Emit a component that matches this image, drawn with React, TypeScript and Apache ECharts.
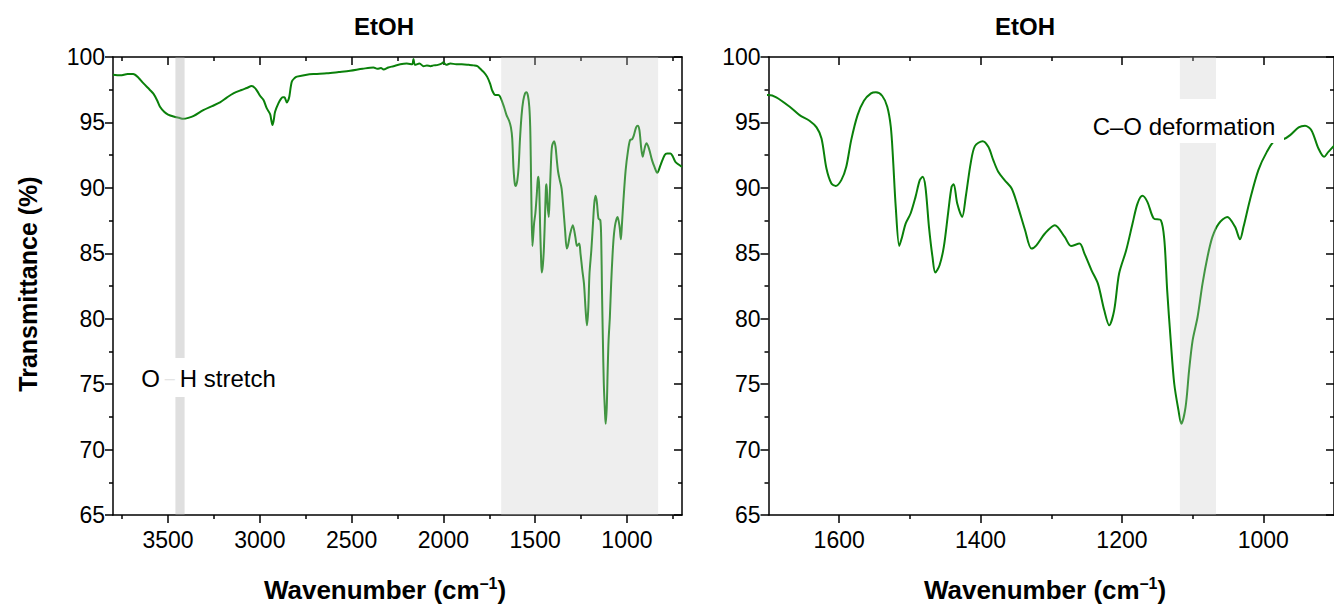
import React, { useEffect, useRef } from "react";
import * as echarts from "echarts";

const wavenumbers = [
  3800, 3760, 3720, 3690, 3660, 3635, 3600, 3580, 3560, 3544, 3520, 3500, 3470, 3440, 3417, 3390, 3360, 3308, 3260, 3217,
  3180, 3144, 3100, 3071, 3044, 3026, 3010, 2998, 2980, 2962, 2944, 2938, 2931, 2924, 2917, 2899, 2885, 2875, 2866, 2853,
  2845, 2839, 2826, 2810, 2798, 2744, 2700, 2635, 2570, 2508, 2440, 2381, 2360, 2340, 2326, 2300, 2272, 2235, 2200, 2170,
  2163, 2155, 2130, 2108, 2090, 2070, 2054, 2030, 2010, 2000, 1985, 1962, 1930, 1900, 1860, 1835, 1815, 1799, 1780, 1762,
  1745, 1735, 1717, 1700, 1689, 1670, 1656, 1642, 1632, 1625, 1618, 1611, 1605, 1597, 1590, 1583, 1574, 1565, 1555, 1548,
  1539, 1532, 1527, 1524, 1520, 1515, 1511, 1506, 1499, 1492, 1486, 1482, 1478, 1473, 1468, 1464, 1458, 1452, 1446, 1441,
  1438, 1433, 1426, 1421, 1414, 1408, 1397, 1389, 1382, 1375, 1366, 1356, 1347, 1337, 1328, 1321, 1309, 1295, 1281, 1272,
  1260, 1253, 1243, 1234, 1225, 1218, 1211, 1204, 1194, 1185, 1178, 1171, 1164, 1155, 1145, 1140, 1136, 1131, 1126, 1120,
  1116, 1110, 1105, 1100, 1093, 1086, 1079, 1072, 1063, 1051, 1040, 1033, 1028, 1019, 1007, 995, 983, 971, 962, 950,
  941, 932, 922, 914, 908, 894, 880, 863, 850, 835, 817, 795, 781, 763, 750, 736, 700,
];

const transmittance = [
  98.65, 98.6, 98.7, 98.7, 98.4, 98.0, 97.5, 97.2, 96.7, 96.2, 95.8, 95.6, 95.45, 95.35, 95.28, 95.35, 95.5, 95.94, 96.25, 96.53,
  96.9, 97.22, 97.48, 97.63, 97.78, 97.62, 97.3, 97.02, 96.71, 96.07, 95.64, 95.2, 94.8, 95.2, 95.82, 96.46, 96.8, 96.92, 96.92, 96.53,
  96.7, 97.0, 98.11, 98.4, 98.5, 98.65, 98.7, 98.75, 98.85, 98.95, 99.1, 99.2, 99.1, 99.15, 99.05, 99.2, 99.3, 99.44, 99.5, 99.45,
  99.85, 99.4, 99.5, 99.3, 99.35, 99.3, 99.36, 99.4, 99.5, 99.6, 99.4, 99.5, 99.45, 99.45, 99.4, 99.36, 99.3, 99.1, 98.85, 98.5,
  97.95, 97.47, 97.09, 97.1, 96.92, 96.2, 95.56, 95.13, 94.62, 93.78, 91.48, 90.33, 90.15, 90.59, 91.61, 93.65, 95.56, 96.66, 97.22, 97.3,
  97.02, 96.2, 94.67, 92.37, 88.55, 85.56, 86.25, 87.27, 88.04, 89.31, 90.59, 90.84, 90.08, 87.02, 84.72, 83.53, 84.09, 85.49, 88.04, 90.08,
  90.28, 88.8, 87.78, 89.3, 91.87, 93.19, 93.57, 93.14, 92.12, 91.23, 90.59, 89.95, 88.55, 86.76, 85.36, 85.61, 86.51, 87.15, 86.25, 85.56,
  85.74, 84.98, 83.7, 82.68, 80.64, 79.5, 80.64, 83.45, 85.23, 87.27, 88.8, 89.39, 88.93, 87.66, 87.53, 86.0, 82.17, 78.35, 75.03, 72.99,
  71.97, 73.24, 76.05, 78.35, 80.13, 82.68, 84.72, 86.25, 87.27, 87.78, 87.02, 86.07, 87.02, 89.06, 91.35, 92.75, 93.65, 93.73, 94.03, 94.62,
  94.75, 94.41, 93.01, 92.37, 92.75, 93.4, 93.0, 92.1, 91.6, 91.15, 91.74, 92.5, 92.63, 92.63, 92.4, 91.99, 91.61,
];

const leftMajorTicks = [1000, 1500, 2000, 2500, 3000, 3500];
const leftMinorTicks = [750, 1250, 1750, 2250, 2750, 3250, 3750];
const rightMajorTicks = [1000, 1200, 1400, 1600];
const rightMinorTicks = [1100, 1300, 1500];

const leftBands = [
  { from: 3460, to: 3410, color: "rgba(170,170,170,0.38)" },
  { from: 1685, to: 830, color: "rgba(200,200,200,0.3)" },
];
const rightBands = [{ from: 1118, to: 1067, color: "rgba(200,200,200,0.3)" }];

const titleText = "EtOH";
const yTitle = "Transmittance (%)";

const FONT = "'Liberation Sans', Arial, Helvetica, sans-serif";
const LINE_COLOR = "#0a800a";
const TICK_FONT = 23;

export default function App() {
  const ref = useRef<HTMLDivElement>(null);

  useEffect(() => {
    if (!ref.current) return;
    const chart = echarts.init(ref.current, undefined, { renderer: "svg" });
    const data = wavenumbers.map((w, i) => [w, transmittance[i]]);
    const axisLineStyle = { color: "#000", width: 1.5 };

    const makeX = (grid: number, min: number, max: number, major: number[], minor: number[]) => [
      {
        type: "value", gridIndex: grid, min, max, inverse: true, position: "bottom",
        axisLine: { show: true, onZero: false, lineStyle: axisLineStyle },
        axisTick: { show: true, customValues: major, length: 8, inside: false, lineStyle: axisLineStyle },
        axisLabel: { show: true, customValues: major, fontSize: TICK_FONT, color: "#000", margin: 13, fontFamily: FONT,
          formatter: (v: number) => String(v) },
        splitLine: { show: false },
      },
      {
        type: "value", gridIndex: grid, min, max, inverse: true, position: "bottom",
        axisLine: { show: false, onZero: false },
        axisTick: { show: true, customValues: minor, length: 4, inside: false, lineStyle: axisLineStyle },
        axisLabel: { show: false },
        splitLine: { show: false },
      },
      {
        type: "value", gridIndex: grid, min, max, inverse: true, position: "top",
        axisLine: { show: true, onZero: false, lineStyle: axisLineStyle },
        axisTick: { show: true, customValues: major, length: 8, inside: true, lineStyle: axisLineStyle },
        axisLabel: { show: false },
        splitLine: { show: false },
      },
      {
        type: "value", gridIndex: grid, min, max, inverse: true, position: "top",
        axisLine: { show: false, onZero: false },
        axisTick: { show: true, customValues: minor, length: 4, inside: true, lineStyle: axisLineStyle },
        axisLabel: { show: false },
        splitLine: { show: false },
      },
    ];

    const makeY = (grid: number) => [
      {
        type: "value", gridIndex: grid, min: 65, max: 100, interval: 5, position: "left",
        axisLine: { show: true, onZero: false, lineStyle: axisLineStyle },
        axisTick: { show: true, length: 8, inside: false, lineStyle: axisLineStyle },
        minorTick: { show: true, splitNumber: 2, length: 4, lineStyle: axisLineStyle },
        axisLabel: { show: true, fontSize: TICK_FONT, color: "#000", margin: 8, fontFamily: FONT },
        splitLine: { show: false },
      },
      {
        type: "value", gridIndex: grid, min: 65, max: 100, interval: 5, position: "right",
        axisLine: { show: true, onZero: false, lineStyle: axisLineStyle },
        axisTick: { show: true, length: 8, inside: true, lineStyle: axisLineStyle },
        minorTick: { show: true, splitNumber: 2, length: 4, lineStyle: axisLineStyle },
        axisLabel: { show: false },
        splitLine: { show: false },
      },
    ];

    const bandSeries = (xi: number, yi: number, bands: typeof leftBands) => ({
      type: "line", xAxisIndex: xi, yAxisIndex: yi, data: [data[0]], showSymbol: false, symbol: "none",
      lineStyle: { opacity: 0 }, z: 5, silent: true,
      markArea: {
        silent: true, z: 5,
        data: bands.map((b) => [{ xAxis: b.from, itemStyle: { color: b.color } }, { xAxis: b.to }]),
      },
    });

    const axisTitle = (cx: number) => ({
      type: "text", z: 100, x: cx, y: 590,
      style: {
        text: "{b|Wavenumber (cm}{s|–1}{b|)}",
        align: "center", verticalAlign: "middle",
        rich: {
          b: { fontSize: 26, fontWeight: "bold", fontFamily: FONT, fill: "#000", lineHeight: 30 },
          s: { fontSize: 16, fontWeight: "bold", fontFamily: FONT, fill: "#000", lineHeight: 30, verticalAlign: "top", padding: [0, 0, 13, 0] },
        },
      },
    });

    chart.setOption({
      animation: false,
      backgroundColor: "#fff",
      grid: [
        { left: 113, top: 57, width: 569, height: 458, containLabel: false },
        { left: 768.5, top: 57, width: 568.5, height: 458, containLabel: false },
      ],
      xAxis: [...makeX(0, 700, 3800, leftMajorTicks, leftMinorTicks), ...makeX(1, 900, 1700, rightMajorTicks, rightMinorTicks)],
      yAxis: [...makeY(0), ...makeY(1)],
      series: [
        { type: "line", xAxisIndex: 0, yAxisIndex: 0, data, showSymbol: false, symbol: "none", smooth: 0.3, z: 2,
          lineStyle: { color: LINE_COLOR, width: 2 }, silent: true },
        { type: "line", xAxisIndex: 4, yAxisIndex: 2, data, showSymbol: false, symbol: "none", smooth: 0.3, z: 2,
          lineStyle: { color: LINE_COLOR, width: 2 }, silent: true },
        bandSeries(0, 0, leftBands),
        bandSeries(4, 2, rightBands),
      ],
      graphic: [
        { type: "text", z: 100, x: 384, y: 26, style: { text: titleText, font: `bold 24px ${FONT}`, fill: "#000", align: "center", verticalAlign: "middle" } },
        { type: "text", z: 100, x: 1025, y: 26, style: { text: titleText, font: `bold 24px ${FONT}`, fill: "#000", align: "center", verticalAlign: "middle" } },
        { type: "text", z: 100, x: 28, y: 284, rotation: Math.PI / 2,
          style: { text: yTitle, font: `bold 25px ${FONT}`, fill: "#000", align: "center", verticalAlign: "middle" } },
        axisTitle(385),
        axisTitle(1045),
        { type: "rect", z: 90, shape: { x: 134, y: 358, width: 150, height: 39 }, style: { fill: "#fff" } },
        { type: "text", z: 100, x: 208.5, y: 378,
          style: {
            text: "{a|O}{d| – }{a|H stretch}", align: "center", verticalAlign: "middle",
            rich: {
              a: { fontSize: 24, fontFamily: FONT, fill: "#000" },
              d: { fontSize: 18, fontFamily: FONT, fill: "#e4e4e4" },
            },
          } },
        { type: "rect", z: 90, shape: { x: 1088, y: 99, width: 196, height: 44 }, style: { fill: "#fff" } },
        { type: "text", z: 100, x: 1184, y: 126,
          style: { text: "C–O deformation", font: `24px ${FONT}`, fill: "#000", align: "center", verticalAlign: "middle" } },
      ],
    });
    return () => chart.dispose();
  }, []);

  return (
    <div style={{ position: "fixed", left: 0, top: 0, width: 1334, height: 605, overflow: "hidden", background: "#fff" }}>
      <div ref={ref} style={{ width: 1334, height: 605 }} />
    </div>
  );
}
